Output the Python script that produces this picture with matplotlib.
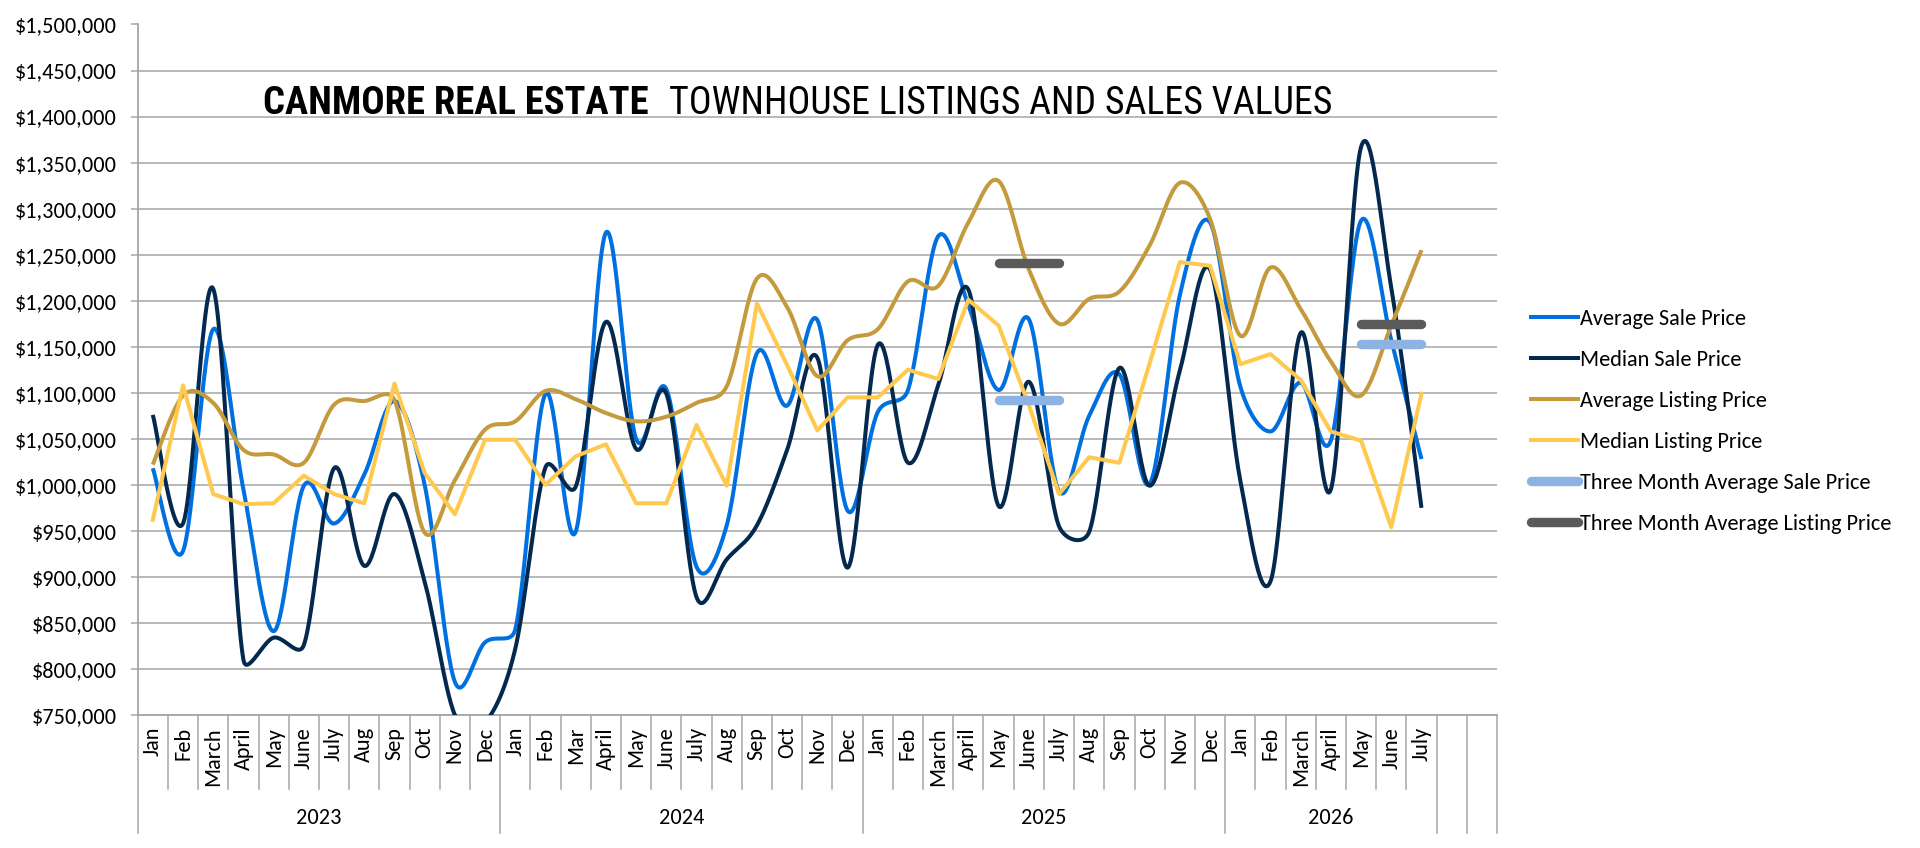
import numpy as np
import matplotlib
matplotlib.use("Agg")
import matplotlib.pyplot as plt
from matplotlib import font_manager
from matplotlib.lines import Line2D
import matplotlib.transforms as mtransforms

# --- data (in $ thousands) ---
years = ["2023", "2024", "2025", "2026"]
months_2023 = ["Jan", "Feb", "March", "April", "May", "June", "July", "Aug", "Sep", "Oct", "Nov", "Dec"]
months_2024 = ["Jan", "Feb", "Mar", "April", "May", "June", "July", "Aug", "Sep", "Oct", "Nov", "Dec"]
months_2025 = ["Jan", "Feb", "March", "April", "May", "June", "July", "Aug", "Sep", "Oct", "Nov", "Dec"]
months_2026 = ["Jan", "Feb", "March", "April", "May", "June", "July"]
n_extra_slots = 2  # two empty categories at the end of the axis

avg_sale = [1018, 928, 1169, 995, 841, 999, 958, 1011, 1091, 1000, 786, 829,
            843, 1099, 949, 1274, 1050, 1104, 911, 956, 1143, 1086, 1179, 972,
            1079, 1103, 1270, 1195, 1103, 1180, 993, 1075, 1120, 1001, 1206, 1285,
            1107, 1058, 1111, 1048, 1287, 1157, 1028]
median_sale = [1076, 958, 1213, 810, 834, 826, 1018, 912, 990, 895, 750, 742,
               822, 1019, 998, 1177, 1039, 1099, 878, 919, 956, 1038, 1138, 910,
               1152, 1024, 1108, 1212, 977, 1112, 955, 949, 1127, 999, 1124, 1234,
               1005, 895, 1165, 995, 1367, 1214, 975]
avg_listing = [1022, 1097, 1089, 1038, 1033, 1024, 1087, 1091, 1092, 948, 1005, 1060,
               1069, 1102, 1093, 1078, 1069, 1074, 1089, 1107, 1224, 1193, 1118, 1157,
               1169, 1221, 1216, 1285, 1330, 1234, 1175, 1202, 1210, 1260, 1328, 1289,
               1162, 1236, 1191, 1134, 1097, 1173, 1255]
median_listing = [962, 1108, 990, 979, 980, 1010, 990, 980, 1110, 1013, 968, 1049,
                  1049, 1000, 1031, 1044, 980, 980, 1065, 999, 1197, 1130, 1059, 1095,
                  1095, 1125, 1115, 1201, 1173, 1087, 990, 1030, 1024, 1132, 1242, 1238,
                  1131, 1142, 1114, 1058, 1048, 954, 1099]
# three month averages (May-July 2025 and May-July 2026)
three_month_periods = [(28, 30), (40, 42)]
three_month_sale = [1092, 1153]
three_month_listing = [1241, 1175]

month_labels = months_2023 + months_2024 + months_2025 + months_2026
year_sizes = [len(months_2023), len(months_2024), len(months_2025), len(months_2026)]

# --- fonts ---
avail = {f.name for f in font_manager.fontManager.ttflist}
def pick(cands):
    for c in cands:
        if c in avail:
            return c
    return "DejaVu Sans"
body_font = pick(["Carlito", "Lato", "Open Sans", "DejaVu Sans"])
title_font = pick(["Liberation Sans Narrow", "Roboto Condensed", "Open Sans Condensed", "DejaVu Sans"])
plt.rcParams["font.family"] = [body_font, "DejaVu Sans"]
FS = 16

C_AVG_SALE = "#0070E0"
C_MED_SALE = "#03294F"
C_AVG_LIST = "#C49A3C"
C_MED_LIST = "#FFC94F"
C_3M_SALE = "#8DB3E2"
C_3M_LIST = "#5A5A5A"
C_GRID = "#A6A6A6"


def smooth(ax, xs, ys, n=30):
    # spreadsheet-style smoothed line: Bezier through the points, with the
    # control arms limited to half the segment length (done in pixel space)
    p = ax.transData.transform(np.column_stack([xs, ys]).astype(float))
    m = len(p)
    out = []
    t = np.linspace(0, 1, n)[:, None]
    for i in range(m - 1):
        p0 = p[max(i - 1, 0)]
        p1 = p[i]
        p2 = p[i + 1]
        p3 = p[min(i + 2, m - 1)]
        d02 = np.hypot(*(p2 - p0))
        d12 = np.hypot(*(p2 - p1))
        d13 = np.hypot(*(p3 - p1))
        f = g = 1 / 6.0
        if d02 > 0 and d02 / 6.0 > d12 / 2.0:
            f = d12 / (2.0 * d02)
        if d13 > 0 and d13 / 6.0 > d12 / 2.0:
            g = d12 / (2.0 * d13)
        c1 = p1 + (p2 - p0) * f
        c2 = p2 - (p3 - p1) * g
        seg = ((1 - t) ** 3) * p1 + 3 * ((1 - t) ** 2) * t * c1 + 3 * (1 - t) * t ** 2 * c2 + t ** 3 * p2
        out.append(seg if i == 0 else seg[1:])
    s = ax.transData.inverted().transform(np.vstack(out))
    return s[:, 0], s[:, 1]


W, H = 1920, 848
fig = plt.figure(figsize=(W / 100, H / 100), dpi=100)
ax_left, ax_right, ax_top, ax_bot = 137.7, 1497.0, 24.5, 715.0
ax = fig.add_axes([ax_left / W, 1 - ax_bot / H, (ax_right - ax_left) / W, (ax_bot - ax_top) / H])

n_slots = len(month_labels) + n_extra_slots
x = np.arange(len(month_labels))
ax.set_xlim(-0.5, n_slots - 0.5)
ax.set_ylim(750000, 1500000)
lw = 2.9

for vals, col in [(avg_sale, C_AVG_SALE), (median_sale, C_MED_SALE), (avg_listing, C_AVG_LIST)]:
    sx, sy = smooth(ax, x, np.array(vals) * 1000)
    ax.plot(sx, sy, color=col, lw=lw, solid_capstyle="butt", zorder=3)
ax.plot(x, np.array(median_listing) * 1000, color=C_MED_LIST, lw=lw, zorder=3)

for (a, b), v in zip(three_month_periods, three_month_sale):
    ax.plot([a, b], [v * 1000, v * 1000], color=C_3M_SALE, lw=6.8, solid_capstyle="round", zorder=4)
for (a, b), v in zip(three_month_periods, three_month_listing):
    ax.plot([a, b], [v * 1000, v * 1000], color=C_3M_LIST, lw=6.8, solid_capstyle="round", zorder=4)

ax.set_xlim(-0.5, n_slots - 0.5)
ax.set_ylim(750000, 1500000)
ax.set_yticks(np.arange(750000, 1500001, 50000))
ax.set_yticklabels(["${:,.0f}".format(v) for v in np.arange(750000, 1500001, 50000)])
ax.yaxis.grid(True, color=C_GRID, lw=1.1)
ax.set_axisbelow(True)
ax.tick_params(axis="y", length=5, width=1.1, color=C_GRID, pad=10, labelsize=FS)
ax.set_xticks([])
for s in ["top", "right"]:
    ax.spines[s].set_visible(False)
for s in ["left", "bottom"]:
    ax.spines[s].set_color(C_GRID)
    ax.spines[s].set_linewidth(1.3)

# category axis: month labels, year labels, separators
trans = mtransforms.blended_transform_factory(ax.transData, ax.transAxes)
ah = ax_bot - ax_top
y_month_sep = -(789 - ax_bot) / ah
y_year_sep = -(833 - ax_bot) / ah
for i, lab in enumerate(month_labels):
    ax.text(i, -(727 - ax_bot) / ah, lab, transform=trans, rotation=90, ha="center", va="top", fontsize=FS)
bounds = [0]
for sz in year_sizes:
    bounds.append(bounds[-1] + sz)
year_bounds = set(bounds) | {n_slots - 1, n_slots}
for k in range(0, n_slots + 1):
    y1 = y_year_sep if k in year_bounds else y_month_sep
    ax.plot([k - 0.5, k - 0.5], [0, y1], transform=trans, color=C_GRID, lw=1.1, clip_on=False)
for j, yr in enumerate(years):
    ax.text((bounds[j] + bounds[j + 1] - 1) / 2, -(818 - ax_bot) / ah, yr, transform=trans,
            ha="center", va="center", fontsize=FS)

# legend
handles = [Line2D([], [], color=C_AVG_SALE, lw=lw),
           Line2D([], [], color=C_MED_SALE, lw=lw),
           Line2D([], [], color=C_AVG_LIST, lw=lw),
           Line2D([], [], color=C_MED_LIST, lw=lw),
           Line2D([], [], color=C_3M_SALE, lw=6.8, solid_capstyle="round"),
           Line2D([], [], color=C_3M_LIST, lw=6.8, solid_capstyle="round")]
labels = ["Average Sale Price", "Median Sale Price", "Average Listing Price", "Median Listing Price",
          "Three Month Average Sale Price", "Three Month Average Listing Price"]
fig.legend(handles, labels, loc="center left", bbox_to_anchor=(1531 / W, 1 - 421.5 / H),
           frameon=False, fontsize=FS, handlelength=2.1, handletextpad=0.12,
           labelspacing=0.95, borderpad=0, borderaxespad=0)

# title in two parts: bold + regular
renderer = fig.canvas.get_renderer()
def fit_text(xpx, text, weight, target_w, size0=30):
    t = fig.text(xpx / W, 1 - 114 / H, text, fontsize=size0, fontweight=weight,
                 family=[title_font, "DejaVu Sans"], fontstretch="condensed",
                 ha="left", va="baseline")
    w = t.get_window_extent(renderer).width
    size = min(size0 * target_w / w, 32)
    t.set_fontsize(size)
    return t
fit_text(262.8, "CANMORE REAL ESTATE", "bold", 385)
fit_text(668.6, "TOWNHOUSE LISTINGS AND SALES VALUES", "normal", 663)

fig.savefig("out.png", dpi=100)
